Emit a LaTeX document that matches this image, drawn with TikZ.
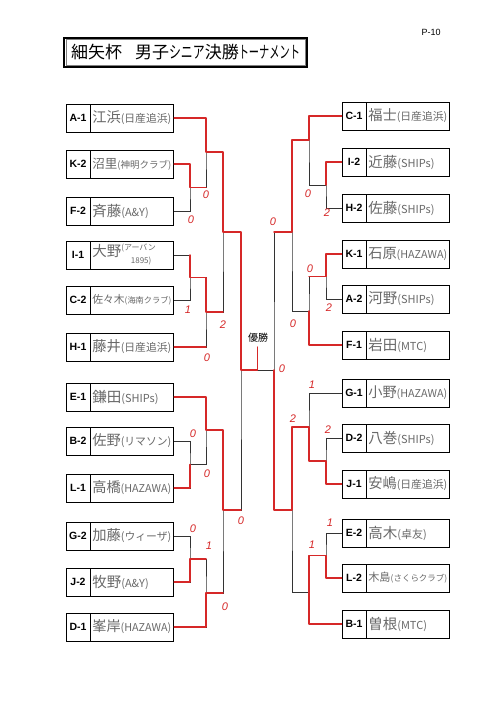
\documentclass[tikz,border=0pt]{standalone}
\usepackage{fontspec}
\setmainfont{Liberation Sans}
\newfontfamily\jp{Noto Sans CJK JP}
\usetikzlibrary{positioning}
\definecolor{pen}{RGB}{214,40,40}
\definecolor{pencil}{RGB}{105,105,105}

\newsavebox\pnbox
\newcommand{\pname}[2]{\sbox\pnbox{{\fontsize{14.5}{14.5}\selectfont #1}{\fontsize{11}{11}\selectfont #2}}%
  \ifdim\wd\pnbox>79pt\resizebox{79pt}{!}{\usebox\pnbox}\else\usebox\pnbox\fi}

\begin{document}
\begin{tikzpicture}[x=1pt,y=-1pt,
  tag/.style={rectangle, draw, line width=0.8pt, minimum width=24pt, minimum height=28pt, inner sep=0pt, font=\bfseries\fontsize{10.5}{10.5}\selectfont},
  namebox/.style={rectangle, draw, line width=0.8pt, minimum height=28pt, text width=80pt, inner xsep=1.5pt, inner ysep=0pt, align=left, text=pencil, font=\jp},
  line/.style={draw=black!80, line width=0.7pt},
  win/.style={draw=pen, line width=1.5pt, line cap=round, line join=round},
  score/.style={text=pen, font=\itshape\fontsize{11}{11}\selectfont, inner sep=0pt}]
\fill[white] (0,0) rectangle (500,708);
\useasboundingbox (0,0) rectangle (500,708);
%%%%%%%%%%%%%%%%%%%
\node[font=\fontsize{9}{9}\selectfont] (page) at (431,32) {P-10};
\node[draw, line width=1.2pt, minimum width=243pt, minimum height=29pt, inner sep=0pt, font=\jp\fontsize{17}{17}\selectfont] (title) at (185.5,52.5)
  {細矢杯\hspace{13pt}男子\scalebox{0.7}[1]{シニア}決勝\scalebox{0.6}[1]{トーナメント}};
\draw[gray, line width=0.8pt] ([shift={(2.5,2.5)}]title.north west) rectangle ([shift={(-2.5,-2.5)}]title.south east);

%%%%%%%%%%%%%%%%%%% left side
\node[tag] (a1) at (78,118) {A-1};
\node[namebox, right=0pt of a1] (a1n) {\pname{江浜}{(日産追浜)}};
\node[tag] (k2) at (78,164) {K-2};
\node[namebox, right=0pt of k2] (k2n) {\pname{沼里}{(神明クラブ)}};
\node[tag] (f2) at (78,211) {F-2};
\node[namebox, right=0pt of f2] (f2n) {\pname{斉藤}{(A\&Y)}};
\node[tag] (i1) at (78,255) {I-1};
\node[namebox, right=0pt of i1] (i1n) {\pname{大野}{\fontsize{8}{11}\selectfont\begin{tabular}{@{}l@{}}(アーバン\\[2pt]\hspace{1.2em}1895)\end{tabular}}};
\node[tag] (c2) at (78,300) {C-2};
\node[namebox, right=0pt of c2] (c2n) {\pname{佐々木}{(海南クラブ)}};
\node[tag] (h1) at (78,347) {H-1};
\node[namebox, right=0pt of h1] (h1n) {\pname{藤井}{(日産追浜)}};
\node[tag] (e1) at (78,397) {E-1};
\node[namebox, right=0pt of e1] (e1n) {\pname{鎌田}{(SHIPs)}};
\node[tag] (b2) at (78,441) {B-2};
\node[namebox, right=0pt of b2] (b2n) {\pname{佐野}{(リマソン)}};
\node[tag] (l1) at (78,488) {L-1};
\node[namebox, right=0pt of l1] (l1n) {\pname{高橋}{(HAZAWA)}};
\node[tag] (g2) at (78,536) {G-2};
\node[namebox, right=0pt of g2] (g2n) {\pname{加藤}{(ウィーザ)}};
\node[tag] (j2) at (78,582) {J-2};
\node[namebox, right=0pt of j2] (j2n) {\pname{牧野}{(A\&Y)}};
\node[tag] (d1) at (78,627) {D-1};
\node[namebox, right=0pt of d1] (d1n) {\pname{峯岸}{(HAZAWA)}};

%%%%%%%%%%%%%%%%%%% right side
\node[tag] (c1) at (354,116) {C-1};
\node[namebox, right=0pt of c1] (c1n) {\pname{福士}{(日産追浜)}};
\node[tag] (i2) at (354,162) {I-2};
\node[namebox, right=0pt of i2] (i2n) {\pname{近藤}{(SHIPs)}};
\node[tag] (h2) at (354,208) {H-2};
\node[namebox, right=0pt of h2] (h2n) {\pname{佐藤}{(SHIPs)}};
\node[tag] (k1) at (354,254) {K-1};
\node[namebox, right=0pt of k1] (k1n) {\pname{石原}{(HAZAWA)}};
\node[tag] (a2) at (354,299) {A-2};
\node[namebox, right=0pt of a2] (a2n) {\pname{河野}{(SHIPs)}};
\node[tag] (f1) at (354,345) {F-1};
\node[namebox, right=0pt of f1] (f1n) {\pname{岩田}{(MTC)}};
\node[tag] (g1) at (354,393) {G-1};
\node[namebox, right=0pt of g1] (g1n) {\pname{小野}{(HAZAWA)}};
\node[tag] (d2) at (354,438) {D-2};
\node[namebox, right=0pt of d2] (d2n) {\pname{八巻}{(SHIPs)}};
\node[tag] (j1) at (354,484) {J-1};
\node[namebox, right=0pt of j1] (j1n) {\pname{安嶋}{(日産追浜)}};
\node[tag] (e2) at (354,533) {E-2};
\node[namebox, right=0pt of e2] (e2n) {\pname{高木}{(卓友)}};
\node[tag] (l2) at (354,578) {L-2};
\node[namebox, right=0pt of l2] (l2n) {\pname{木島}{(さくらクラブ)}};
\node[tag] (b1) at (354,624) {B-1};
\node[namebox, right=0pt of b1] (b1n) {\pname{曽根}{(MTC)}};

%%%%%%%%%%%%%%%%%%% joints
\coordinate (mKF) at (190,187.5);
\coordinate (mA) at (206,152);
\coordinate (mIC) at (190,277.5);
\coordinate (mH) at (206,312);
\coordinate (mT1) at (223,232);
\coordinate (mBL) at (190,464.5);
\coordinate (mE) at (206,430);
\coordinate (mGJ) at (190,559);
\coordinate (mD) at (206,593);
\coordinate (mB1) at (223,510);
\coordinate (mL) at (241,370);
\coordinate (mC) at (257.5,370);
\coordinate (top) at (257.5,347);
\coordinate (mR) at (274,370);
\coordinate (mIH) at (326,185);
\coordinate (mC1) at (309,140);
\coordinate (mKA) at (326,276.5);
\coordinate (mF) at (309,311);
\coordinate (mT2) at (292,232);
\coordinate (mDJ) at (326,461);
\coordinate (mG) at (309,427);
\coordinate (mEL) at (326,555.5);
\coordinate (mB) at (309,592);
\coordinate (mB2) at (292,510);

%%%%%%%%%%%%%%%%%%% bracket
\draw[line] (k2n.east) -| (mKF) |- (f2n.east);
\draw[line] (a1n.east) -| (mA) |- (mKF);
\draw[line] (i1n.east) -| (mIC) |- (c2n.east);
\draw[line] (mIC) -| (mH) |- (h1n.east);
\draw[line] (mA) -| (mT1) |- (mH);
\draw[line] (b2n.east) -| (mBL) |- (l1n.east);
\draw[line] (e1n.east) -| (mE) |- (mBL);
\draw[line] (g2n.east) -| (mGJ) |- (j2n.east);
\draw[line] (mGJ) -| (mD) |- (d1n.east);
\draw[line] (mE) -| (mB1) |- (mD);
\draw[line] (mT1) -| (mL) |- (mB1);
\draw[line] (mL) -- (mR);
\draw[line] (mC) -- (top);
\draw[line] (i2.west) -| (mIH) |- (h2.west);
\draw[line] (c1.west) -| (mC1) |- (mIH);
\draw[line] (k1.west) -| (mKA) |- (a2.west);
\draw[line] (mKA) -| (mF) |- (f1.west);
\draw[line] (mC1) -| (mT2) |- (mF);
\draw[line] (d2.west) -| (mDJ) |- (j1.west);
\draw[line] (g1.west) -| (mG) |- (mDJ);
\draw[line] (e2.west) -| (mEL) |- (l2.west);
\draw[line] (mEL) -| (mB) |- (b1.west);
\draw[line] (mG) -| (mB2) |- (mB);
\draw[line] (mT2) -| (mR) |- (mB2);
\node[font=\jp\fontsize{10}{10}\selectfont] (champ) at (258,338) {優勝};

%%%%%%%%%%%%%%%%%%% red lines
\draw[win] (a1n.east) -| (mA) -| (mT1) -| (mL) -- (mC) -- (top);
\draw[win] (k2n.east) -| (mKF) -- (mKF -| mA);
\draw[win] (mIC |- i1n.east) -- (mIC) -| (mH) -- (mH -| mT1);
\draw[win] (h1n.east) -- (h1n.east -| mH);
\draw[win] (e1n.east) -| (mE) -| (mB1) -- (mB1 -| mL);
\draw[win] (l1n.east) -| (mBL);
\draw[win] (j2n.east) -| (mGJ) -- (mGJ -| mD);
\draw[win] (d1n.east) -| (mD) -- (mD -| mB1);
\draw[win] (c1.west) -| (mC1) -| (mT2) -- (mT2 -| mR);
\draw[win] (i2.west) -| (mIH);
\draw[win] (k1.west) -| (mKA) -- (mKA -| mF);
\draw[win] (f1.west) -| (mF);
\draw[win] (j1.west) -| (mDJ) -| (mG) -| (mB2) -| (mR);
\draw[win] (l2.west) -| (mEL) -| (mB) |- (b1.west);

%%%%%%%%%%%%%%%%%%% scores
\node[score] (s1) at (206,195) {0};
\node[score] (s2) at (191,220) {0};
\node[score] (s3) at (188,310) {1};
\node[score] (s4) at (223,325) {2};
\node[score] (s5) at (207,358) {0};
\node[score] (s6) at (193,434) {0};
\node[score] (s7) at (207,474) {0};
\node[score] (s8) at (241,521) {0};
\node[score] (s9) at (193,529) {0};
\node[score] (s10) at (209,546) {1};
\node[score] (s11) at (225,607) {0};
\node[score] (s12) at (273,222) {0};
\node[score] (s13) at (308,194) {0};
\node[score] (s14) at (327,213) {2};
\node[score] (s15) at (310,269) {0};
\node[score] (s16) at (329,308) {2};
\node[score] (s17) at (293,324) {0};
\node[score] (s18) at (282,369) {0};
\node[score] (s19) at (312,385) {1};
\node[score] (s20) at (293,419) {2};
\node[score] (s21) at (328,430) {2};
\node[score] (s22) at (330,523) {1};
\node[score] (s23) at (312,545) {1};
\end{tikzpicture}
\end{document}
